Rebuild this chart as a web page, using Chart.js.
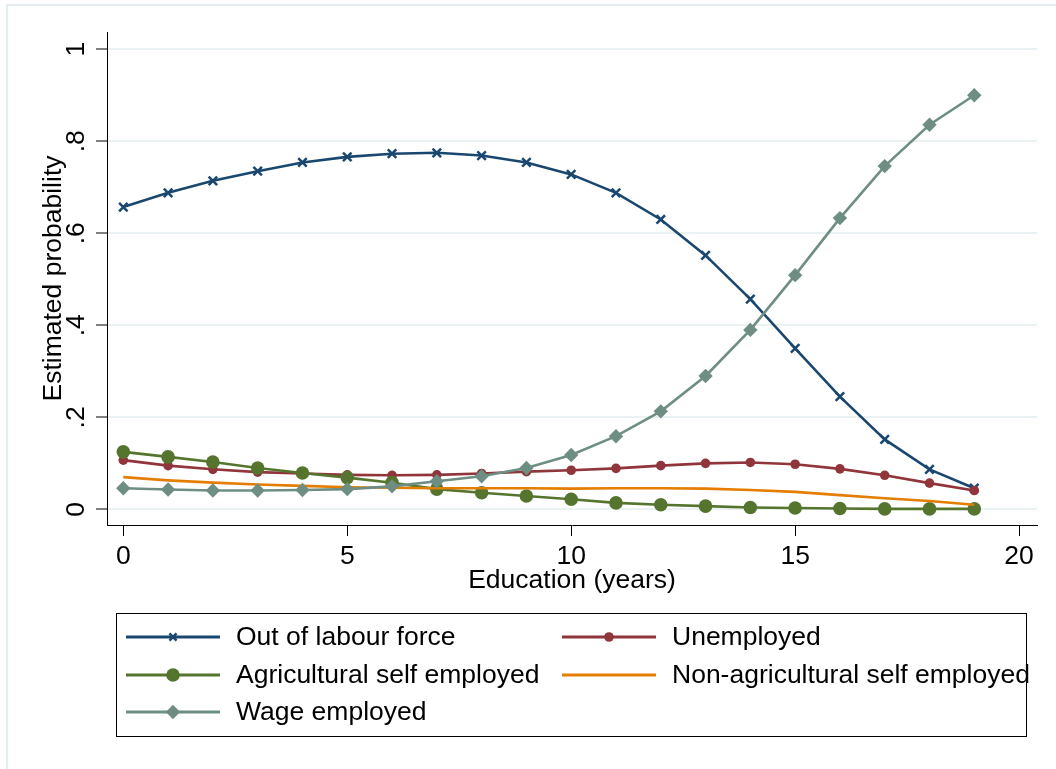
<!DOCTYPE html>
<html>
<head>
<meta charset="utf-8">
<script src="https://cdn.jsdelivr.net/npm/chart.js@4/dist/chart.umd.min.js"></script>
<style>
  html, body { margin: 0; padding: 0; background: #ffffff; }
  #wrap { width: 1056px; height: 769px; position: relative; }
  canvas { display: block; }
</style>
</head>
<body>
<div id="wrap"><canvas id="c" width="1056" height="769"></canvas></div>
<script>
// ---- data ----
const years = [0, 1, 2, 3, 4, 5, 6, 7, 8, 9, 10, 11, 12, 13, 14, 15, 16, 17, 18, 19];
const outLabourForce = [0.657, 0.688, 0.714, 0.735, 0.754, 0.766, 0.773, 0.775, 0.769, 0.754, 0.728, 0.688, 0.630, 0.552, 0.457, 0.350, 0.245, 0.152, 0.087, 0.046];
const unemployed = [0.107, 0.095, 0.087, 0.081, 0.078, 0.075, 0.074, 0.075, 0.078, 0.082, 0.085, 0.089, 0.095, 0.100, 0.102, 0.098, 0.088, 0.074, 0.057, 0.041];
const agriSelfEmployed = [0.125, 0.114, 0.103, 0.090, 0.079, 0.069, 0.058, 0.044, 0.036, 0.029, 0.022, 0.014, 0.010, 0.007, 0.004, 0.003, 0.002, 0.001, 0.001, 0.001];
const nonAgriSelfEmployed = [0.070, 0.063, 0.058, 0.054, 0.051, 0.048, 0.047, 0.046, 0.046, 0.046, 0.045, 0.046, 0.046, 0.045, 0.042, 0.038, 0.031, 0.024, 0.018, 0.010];
const wageEmployed = [0.046, 0.043, 0.041, 0.041, 0.042, 0.044, 0.050, 0.061, 0.072, 0.090, 0.118, 0.159, 0.213, 0.290, 0.390, 0.509, 0.633, 0.746, 0.836, 0.900];

const seriesNames = ["Out of labour force", "Unemployed", "Agricultural self employed", "Non-agricultural self employed", "Wage employed"];
const xTickValues = [0, 5, 10, 15, 20];
const yTickValues = [0, 0.2, 0.4, 0.6, 0.8, 1];
const yTickLabels = ["0", ".2", ".4", ".6", ".8", "1"];
const xAxisTitle = "Education (years)";
const yAxisTitle = "Estimated probability";

// ---- styling ----
const FONT = "'Liberation Sans', Arial, Helvetica, sans-serif";
const FS = 26.5;
const colors = ["#1a476f", "#90353b", "#55752f", "#e37e00", "#6e8e84"];
const markers = [
  { pointStyle: "crossRot", radius: 6, borderWidth: 2.5 },
  { pointStyle: "circle", radius: 4.8, borderWidth: 0 },
  { pointStyle: "circle", radius: 6.8, borderWidth: 0 },
  { pointStyle: false, radius: 0, borderWidth: 0 },
  { pointStyle: "rectRot", radius: 7.2, borderWidth: 0 }
];
const seriesValues = [outLabourForce, unemployed, agriSelfEmployed, nonAgriSelfEmployed, wageEmployed];

const datasets = seriesValues.map((vals, i) => ({
  label: seriesNames[i],
  data: years.map((x, k) => ({ x: x, y: vals[k] })),
  borderColor: colors[i],
  backgroundColor: colors[i],
  borderWidth: 2.6,
  tension: 0,
  pointStyle: markers[i].pointStyle,
  pointRadius: markers[i].radius,
  pointBorderWidth: markers[i].borderWidth,
  pointBorderColor: colors[i],
  pointBackgroundColor: colors[i],
  order: 10 - i
}));

const bgPlugin = {
  id: "bg",
  beforeDraw(chart) {
    const ctx = chart.ctx;
    ctx.save();
    ctx.fillStyle = "#ffffff";
    ctx.fillRect(0, 0, chart.width, chart.height);
    ctx.strokeStyle = "#e4eef1";
    ctx.lineWidth = 2;
    ctx.strokeRect(7, 5, 1200, 1200);
    ctx.restore();
  }
};

const legendPlugin = {
  id: "stataLegend",
  afterDraw(chart) {
    const ctx = chart.ctx;
    ctx.save();
    // box
    ctx.strokeStyle = "#000000";
    ctx.lineWidth = 1;
    ctx.strokeRect(116.5, 613.5, 910, 123);
    const rows = [637, 675, 712];
    const cols = [{ l0: 126, l1: 220, m: 173, t: 236 }, { l0: 562, l1: 656, m: 609, t: 672 }];
    chart.data.datasets.forEach((ds, i) => {
      const r = rows[Math.floor(i / 2)];
      const c = cols[i % 2];
      ctx.strokeStyle = ds.borderColor;
      ctx.lineWidth = 3;
      ctx.beginPath();
      ctx.moveTo(c.l0, r);
      ctx.lineTo(c.l1, r);
      ctx.stroke();
      if (ds.pointStyle) {
        const opts = {
          pointStyle: ds.pointStyle,
          radius: ds.pointStyle === "crossRot" ? 5 : ds.pointRadius,
          borderWidth: ds.pointStyle === "crossRot" ? 2.5 : 0,
          rotation: 0
        };
        ctx.fillStyle = ds.pointBackgroundColor;
        ctx.strokeStyle = ds.pointBorderColor;
        ctx.lineWidth = opts.borderWidth;
        Chart.helpers.drawPoint(ctx, opts, c.m, r);
      }
      ctx.fillStyle = "#000000";
      ctx.font = FS + "px " + FONT;
      ctx.textAlign = "left";
      ctx.textBaseline = "middle";
      ctx.fillText(ds.label, c.t, r + 1);
    });
    ctx.restore();
  }
};

Chart.defaults.font.family = FONT;
Chart.defaults.font.size = FS;
Chart.defaults.color = "#000000";

new Chart(document.getElementById("c"), {
  type: "line",
  data: { datasets: datasets },
  options: {
    responsive: false,
    animation: false,
    devicePixelRatio: 1,
    layout: { padding: { left: 30, top: 32, right: 19, bottom: 169 } },
    plugins: {
      legend: { display: false },
      tooltip: { enabled: false }
    },
    scales: {
      x: {
        type: "linear",
        min: -0.364,
        max: 20.40,
        afterBuildTicks: (scale) => { scale.ticks = xTickValues.map(v => ({ value: v })); },
        afterFit: (scale) => { scale.height = 75; },
        ticks: { padding: 5, font: { size: FS }, color: "#000", maxRotation: 0, autoSkip: false,
                 callback: (v) => String(v) },
        grid: { drawOnChartArea: false, tickColor: "#000", tickLength: 11, tickWidth: 1 },
        border: { display: true, color: "#000", width: 1 },
        title: { display: true, text: xAxisTitle, font: { size: FS }, color: "#000", padding: { top: 0, bottom: 3 } }
      },
      y: {
        type: "linear",
        min: -0.034,
        max: 1.0375,
        afterBuildTicks: (scale) => { scale.ticks = yTickValues.map(v => ({ value: v })); },
        afterFit: (scale) => { scale.width = 77; },
        ticks: { padding: 8, font: { size: FS }, color: "#000", minRotation: 90, maxRotation: 90,
                 crossAlign: "center", autoSkip: false,
                 callback: (v) => { const k = yTickValues.findIndex(t => Math.abs(t - v) < 1e-9); return k >= 0 ? yTickLabels[k] : ""; } },
        grid: { color: "#eaf2f3", lineWidth: 2, tickColor: "#000", tickLength: 11, tickWidth: 1 },
        border: { display: true, color: "#000", width: 1 },
        title: { display: true, text: yAxisTitle, font: { size: FS }, color: "#000", padding: { top: 8, bottom: 0 } }
      }
    }
  },
  plugins: [bgPlugin, legendPlugin]
});
</script>
</body>
</html>
